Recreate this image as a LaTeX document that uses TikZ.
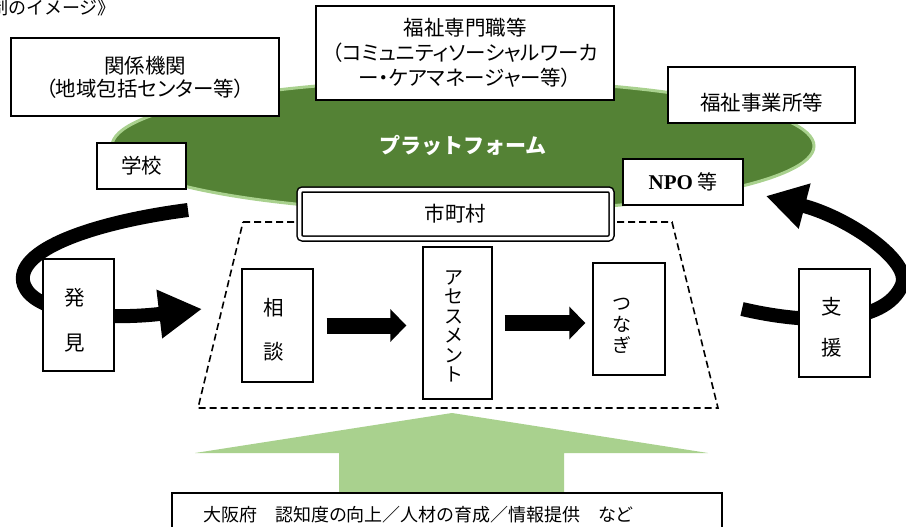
\documentclass[tikz,border=0pt]{standalone}
\usepackage{fontspec}
\setmainfont{Noto Sans CJK JP}[RawFeature=+palt]
\newfontfamily\jpfull{Noto Sans CJK JP}
\newfontfamily\serifb{Liberation Serif}
\usetikzlibrary{arrows.meta,calc}
\definecolor{platgreen}{HTML}{548235}
\definecolor{lightgreen}{HTML}{A9D18E}
\begin{document}
\begin{tikzpicture}[x=1pt,y=-1pt,
  box/.style={draw=black, line width=1.4pt, fill=white, inner sep=0pt, align=center},
  lab/.style={inner sep=0pt, align=center},
  txt/.style={font=\fontsize{20.5}{23}\selectfont},
  vlab/.style={inner sep=0pt, align=center},
  blockarrow/.style={line width=16pt, -{Triangle[length=16pt,width=32pt]}},
  curvearrow/.style={line width=14pt},
  dashedline/.style={line width=1.6pt, dash pattern=on 7pt off 4pt}
]
\useasboundingbox (0,0) rectangle (906,527);
\fill[white] (0,0) rectangle (906,527);

% title fragment
\node[anchor=base west, font=\jpfull\fontsize{18}{20}\selectfont, inner sep=0pt] (title) at (-10,14.5) {制のイメージ》};

% platform ellipse
\path[fill=platgreen, draw=lightgreen, line width=3pt] (463,146) ellipse [x radius=351, y radius=66];
\node[font=\jpfull\bfseries\fontsize{21}{24}\selectfont, text=white, inner sep=0pt] (plat) at (463,145) {プラットフォーム};

% dashed trapezoid
\coordinate (tl) at (243,222);
\coordinate (tr) at (672,222);
\coordinate (br) at (718,408);
\coordinate (bl) at (198,408);
\draw[dashedline] (tl) -- (tr) -- (br) -- (bl) -- cycle;

% curved arrows
\coordinate (hstart) at (188,210);
\coordinate (htip) at (202,309);
\draw[curvearrow, -{Triangle[length=43pt,width=46pt]}] (hstart) .. controls (95,222) and (12,250) .. (24,285) .. controls (34,312) and (100,321) .. (htip);
\coordinate (sstart) at (742,309);
\coordinate (stip) at (766,196);
\draw[curvearrow, -{Triangle[length=40pt,width=44pt]}] (sstart) .. controls (810,325) and (885,325) .. (902,285) .. controls (912,262) and (850,218) .. (stip);

% big light green arrow
\fill[lightgreen] (339,494) -- (339,453) -- (195,453) -- (452,413) -- (708,453) -- (564,453) -- (564,494) -- cycle;

% boxes
\node[box, txt, minimum width=268pt, minimum height=78pt] (kankei) at (145,77) {関係機関\\（地域包括センター等）};
\node[box, txt, minimum width=89pt, minimum height=46pt] (gakkou) at (141.5,166) {学校};
\node[box, font=\fontsize{20.5}{25}\selectfont, minimum width=298pt, minimum height=94pt] (fukushi) at (465,53) {福祉専門職等\\（コミュニティソーシャルワーカ\\ー・ケアマネージャー等）};
\node[box, minimum width=187pt, minimum height=56pt,
  label={[lab, txt, yshift=-8pt]center:福祉事業所等}] (jigyo) at (761.5,95) {};
\node[box, font=\fontsize{20}{24}\selectfont, minimum width=120pt, minimum height=46pt] (npo) at (683,182) {{\serifb\bfseries\fontsize{21}{24}\selectfont NPO} 等};
\node[box, double, double distance=3.5pt, line width=1.5pt, rounded corners=3pt, minimum width=312pt, minimum height=49pt, txt] (shichoson) at (455.5,214) {市町村};

\node[box, minimum width=71pt, minimum height=113pt,
  label={[vlab, font=\fontsize{20.5}{44}\selectfont, xshift=-3.5pt, yshift=-4.5pt]center:相\\談}] (soudan) at (277.5,325.5) {};
\node[box, minimum width=69pt, minimum height=152pt,
  label={[vlab, font=\jpfull\fontsize{19}{19.5}\selectfont, xshift=-4pt, yshift=-3.5pt]center:ア\\セ\\ス\\メ\\ン\\ト}] (assess) at (457.5,323) {};
\node[box, minimum width=72pt, minimum height=112pt,
  label={[vlab, font=\jpfull\fontsize{19}{21}\selectfont, xshift=-7.5pt, yshift=-7pt]center:つ\\な\\ぎ}] (tsunagi) at (629,319) {};
\node[box, minimum width=71pt, minimum height=112pt,
  label={[vlab, font=\fontsize{20.5}{45}\selectfont, xshift=-3.5pt, yshift=-5.5pt]center:発\\見}] (hakken) at (78.5,315) {};
\node[box, minimum width=71pt, minimum height=108pt,
  label={[vlab, font=\fontsize{20.5}{41}\selectfont, xshift=-2.5pt, yshift=-4.5pt]center:支\\援}] (shien) at (834.5,323) {};

\node[box, minimum width=550pt, minimum height=60pt,
  label={[lab, font=\fontsize{18}{21}\selectfont, anchor=west, xshift=32pt, yshift=8pt]west:大阪府　認知度の向上／人材の育成／情報提供　など}] (osaka) at (447,523) {};

% block arrows between steps
\draw[blockarrow, shorten <=13pt, shorten >=16pt] (soudan.east) -- (soudan.east -| assess.west);
\draw[blockarrow, shorten <=12pt, shorten >=7pt] (assess.east) -- (assess.east -| tsunagi.west);
\end{tikzpicture}
\end{document}
